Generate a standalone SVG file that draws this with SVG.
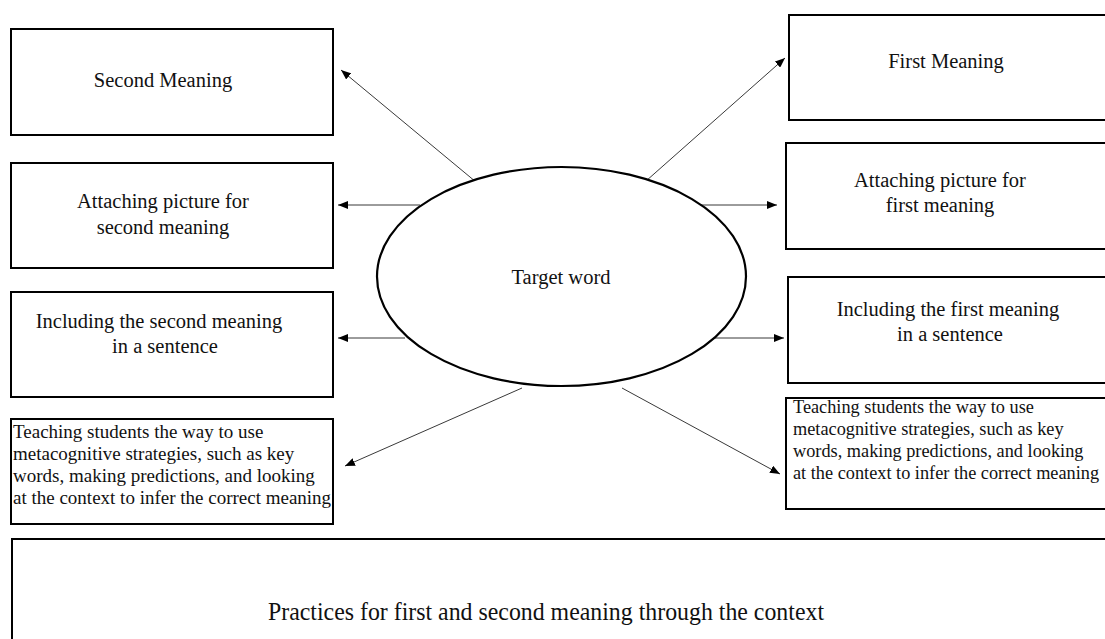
<svg xmlns="http://www.w3.org/2000/svg" width="1105" height="639" viewBox="0 0 1105 639">
<style>
.box{fill:#fff;stroke:#000;stroke-width:2}
.t{font-family:"Liberation Serif","Times New Roman",serif;font-size:20.5px;fill:#111}
.s{font-family:"Liberation Serif","Times New Roman",serif;font-size:19px;fill:#111}
.sr{font-family:"Liberation Serif","Times New Roman",serif;font-size:18.3px;fill:#111}
.p{font-family:"Liberation Serif","Times New Roman",serif;font-size:25px;fill:#111}
.c{text-anchor:middle}
.con line{stroke:#222;stroke-width:0.9}
</style>
<defs>
<marker id="ah" markerUnits="userSpaceOnUse" markerWidth="10" markerHeight="8" refX="10" refY="4" orient="auto">
<path d="M0,0 L10,4 L0,8 z" fill="#000"/>
</marker>
</defs>
<rect width="1105" height="639" fill="#fff"/>
<g class="con">
<line x1="476" y1="182" x2="341" y2="70" marker-end="url(#ah)"/>
<line x1="646" y1="181" x2="785" y2="58" marker-end="url(#ah)"/>
<line x1="420" y1="205" x2="338" y2="205" marker-end="url(#ah)"/>
<line x1="700" y1="205" x2="777" y2="205" marker-end="url(#ah)"/>
<line x1="405" y1="338" x2="338" y2="338" marker-end="url(#ah)"/>
<line x1="715" y1="338" x2="784" y2="338" marker-end="url(#ah)"/>
<line x1="522" y1="388" x2="345" y2="466" marker-end="url(#ah)"/>
<line x1="622" y1="388" x2="780" y2="474" marker-end="url(#ah)"/>
</g>
<g id="target">
<ellipse cx="561.5" cy="276.5" rx="184.5" ry="109.5" fill="#fff" stroke="#000" stroke-width="2.2"/>
<text class="t c" x="561" y="284">Target word</text>
</g>
<g id="second-meaning">
<rect class="box" x="11" y="29" width="322" height="106"/>
<text class="t c" x="163" y="87">Second Meaning</text>
</g>
<g id="first-meaning">
<rect class="box" x="789" y="15" width="330" height="105"/>
<text class="t c" x="946" y="68">First Meaning</text>
</g>
<g id="picture-second">
<rect class="box" x="11" y="163" width="322" height="105"/>
<text class="t c" x="163" y="208">Attaching picture for</text>
<text class="t c" x="163" y="234">second meaning</text>
</g>
<g id="picture-first">
<rect class="box" x="786" y="143" width="330" height="106"/>
<text class="t c" x="940" y="187">Attaching picture for</text>
<text class="t c" x="940" y="212">first meaning</text>
</g>
<g id="sentence-second">
<rect class="box" x="11" y="292" width="322" height="105"/>
<text class="t c" x="159" y="328">Including the second meaning</text>
<text class="t c" x="165" y="353">in a sentence</text>
</g>
<g id="sentence-first">
<rect class="box" x="788" y="277" width="330" height="106"/>
<text class="t c" x="948" y="316">Including the first meaning</text>
<text class="t c" x="950" y="341">in a sentence</text>
</g>
<g id="strategies-left">
<rect class="box" x="11" y="419" width="322" height="105"/>
<text class="s" x="13" y="438">Teaching students the way to use</text>
<text class="s" x="13" y="460">metacognitive strategies, such as key</text>
<text class="s" x="13" y="482">words, making predictions, and looking</text>
<text class="s" x="13" y="504">at the context to infer the correct meaning</text>
</g>
<g id="strategies-right">
<rect class="box" x="786" y="398" width="330" height="111"/>
<text class="sr" x="793" y="413">Teaching students the way to use</text>
<text class="sr" x="793" y="435">metacognitive strategies, such as key</text>
<text class="sr" x="793" y="457">words, making predictions, and looking</text>
<text class="sr" x="793" y="479">at the context to infer the correct meaning</text>
</g>
<g id="practices">
<rect class="box" x="12" y="539" width="1110" height="110"/>
<text class="p" x="268" y="620" textLength="556" lengthAdjust="spacingAndGlyphs">Practices for first and second meaning through the context</text>
</g>
</svg>
